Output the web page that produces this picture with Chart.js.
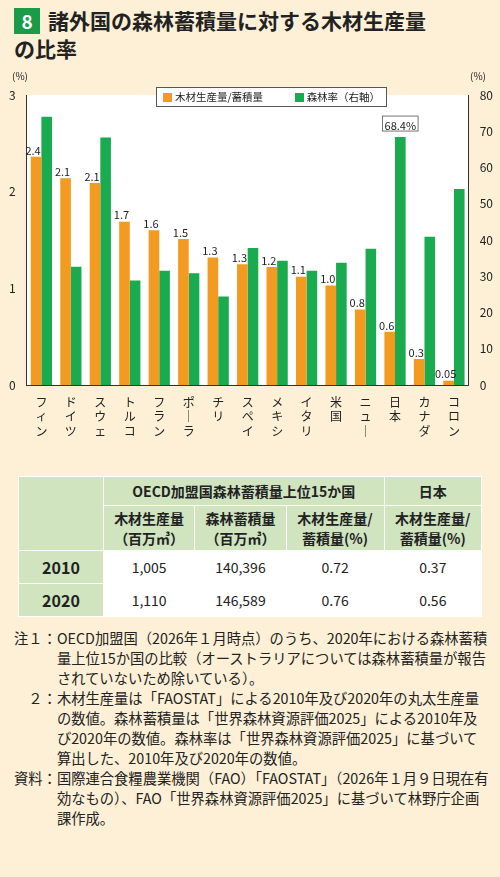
<!DOCTYPE html>
<html><head><meta charset="utf-8">
<script src="https://cdn.jsdelivr.net/npm/chart.js"></script>
<style>
body{margin:0;background:#fdf0d6;font-family:"Noto Sans CJK JP",sans-serif;width:500px;height:877px;position:relative;overflow:hidden;color:#222}
#title{position:absolute;left:14px;top:6px;font-size:21px;font-weight:bold;line-height:28px}
#num{display:inline-block;background:#1a9b48;color:#fff;width:26px;height:26px;text-align:center;line-height:26px;margin-right:8px;font-size:19px}
#cw{position:absolute;left:0;top:60px;width:500px;height:378px;overflow:hidden}
.ax{position:absolute;top:68px;font-size:10px}
#legend{position:absolute;left:156px;top:87px;border:1px solid #555;background:#fff;font-size:10.5px;padding:0 6px;height:18px;line-height:18px;white-space:nowrap}
#legend span.sw{display:inline-block;width:9px;height:9px;vertical-align:-1px;margin-right:3px}
table{position:absolute;left:18px;top:476px;width:464px;border-collapse:collapse;font-size:14px}
td{border:1px solid #fff;text-align:center;height:26px}
.h{background:#cfe4bf;font-weight:bold}
.y{background:#cfe4bf;font-weight:bold;font-size:16px}
.d{background:#fff}
#notes{position:absolute;left:14px;top:628px;font-size:14.3px;line-height:20px;width:476px}
.n{display:flex}.n .k{flex:0 0 auto;white-space:pre}
</style></head><body>
<div id="title"><span id="num">8</span>諸外国の森林蓄積量に対する木材生産量<br>の比率</div>
<div id="cw"><canvas id="c" width="500" height="440"></canvas></div>
<div class="ax" style="left:12px">(%)</div><div class="ax" style="left:470px">(%)</div>
<div id="legend"><span class="sw" style="background:#f39a21"></span>木材生産量/蓄積量　　　<span class="sw" style="background:#1aaa50"></span>森林率（右軸）</div>
<table>
<tr><td class="h" rowspan="2" style="width:82px"></td><td class="h" colspan="3">OECD加盟国森林蓄積量上位15か国</td><td class="h">日本</td></tr>
<tr><td class="h" style="height:42px">木材生産量<br>（百万㎥）</td><td class="h">森林蓄積量<br>（百万㎥）</td><td class="h">木材生産量/<br>蓄積量(%)</td><td class="h">木材生産量/<br>蓄積量(%)</td></tr>
<tr><td class="y" style="height:30px">2010</td><td class="d">1,005</td><td class="d">140,396</td><td class="d">0.72</td><td class="d">0.37</td></tr>
<tr><td class="y" style="height:30px">2020</td><td class="d">1,110</td><td class="d">146,589</td><td class="d">0.76</td><td class="d">0.56</td></tr>
</table>
<div id="notes">
<div class="n"><span class="k">注１：</span><span>OECD加盟国（2026年１月時点）のうち、2020年における森林蓄積量上位15か国の比較（オーストラリアについては森林蓄積量が報告されていないため除いている）。</span></div>
<div class="n"><span class="k">　２：</span><span>木材生産量は「FAOSTAT」による2010年及び2020年の丸太生産量の数値。森林蓄積量は「世界森林資源評価2025」による2010年及び2020年の数値。森林率は「世界森林資源評価2025」に基づいて算出した、2010年及び2020年の数値。</span></div>
<div class="n"><span class="k">資料：</span><span>国際連合食糧農業機関（FAO）「FAOSTAT」（2026年１月９日現在有効なもの）、FAO「世界森林資源評価2025」に基づいて林野庁企画課作成。</span></div>
</div>
<script>
const categories=["フィンランド","ドイツ","スウェーデン","トルコ","フランス","ポーランド","チリ","スペイン","メキシコ","イタリア","米国","ニュージーランド","日本","カナダ","コロンビア"];
const ratio=[2.36,2.14,2.09,1.69,1.60,1.51,1.32,1.25,1.22,1.12,1.03,0.78,0.55,0.27,0.045];
const ratioLabels=["2.4","2.1","2.1","1.7","1.6","1.5","1.3","1.3","1.2","1.1","1.0","0.8","0.6","0.3","0.05"];
const forest=[74.0,32.6,68.3,28.8,31.5,30.8,24.4,37.8,34.3,31.5,33.7,37.6,68.4,40.9,54.1];
const leftTicks=[0,1,2,3];
const rightTicks=[0,10,20,30,40,50,60,70,80];
const vert=s=>s.replace(/ー/g,"｜").split("");
const F='"Noto Sans CJK JP",sans-serif';
const bg={id:'bg',beforeDraw(c){const a=c.chartArea,x=c.ctx;x.save();x.fillStyle='#fff';x.fillRect(a.left,a.top,a.right-a.left,a.bottom-a.top);x.restore();}};
const lab={id:'lab',afterDatasetsDraw(c){const x=c.ctx;x.save();x.font='11px '+F;x.fillStyle='#222';x.textAlign='center';x.textBaseline='bottom';
c.getDatasetMeta(0).data.forEach((b,i)=>{x.fillText(ratioLabels[i],b.x-3,b.y-1);});
const j=c.getDatasetMeta(1).data[12];x.font='11px '+F;const t='68.4%';const w=x.measureText(t).width+4;
x.fillStyle='#fff';x.fillRect(j.x-w/2,j.y-21,w,15);x.strokeStyle='#555';x.lineWidth=0.8;x.strokeRect(j.x-w/2,j.y-21,w,15);x.fillStyle='#222';x.fillText(t,j.x,j.y-6);x.restore();}};
new Chart(document.getElementById('c'),{type:'bar',
data:{labels:categories.map(vert),datasets:[
{label:'木材生産量/蓄積量',data:ratio,backgroundColor:'#f39a21',yAxisID:'y',categoryPercentage:0.72,barPercentage:1},
{label:'森林率(右軸)',data:forest,backgroundColor:'#1aaa50',yAxisID:'y1',categoryPercentage:0.72,barPercentage:1}]},
options:{responsive:false,animation:false,layout:{padding:{top:35,left:6,right:4,bottom:0}},
plugins:{legend:{display:false},tooltip:{enabled:false}},
scales:{
x:{afterFit:s=>{s.height=115},grid:{display:false},border:{color:'#333'},ticks:{color:'#222',font:{family:F,size:12},maxRotation:0,autoSkip:false,padding:2,lineHeight:0.95}},
y:{position:'left',min:0,max:3,afterBuildTicks:a=>{a.ticks=leftTicks.map(v=>({value:v}))},grid:{display:false},border:{color:'#333'},ticks:{color:'#222',font:{family:F,size:12}}},
y1:{position:'right',min:0,max:80,afterBuildTicks:a=>{a.ticks=rightTicks.map(v=>({value:v}))},grid:{display:false},border:{color:'#333'},ticks:{color:'#222',font:{family:F,size:12}}}}},
plugins:[bg,lab]});
</script></body></html>
